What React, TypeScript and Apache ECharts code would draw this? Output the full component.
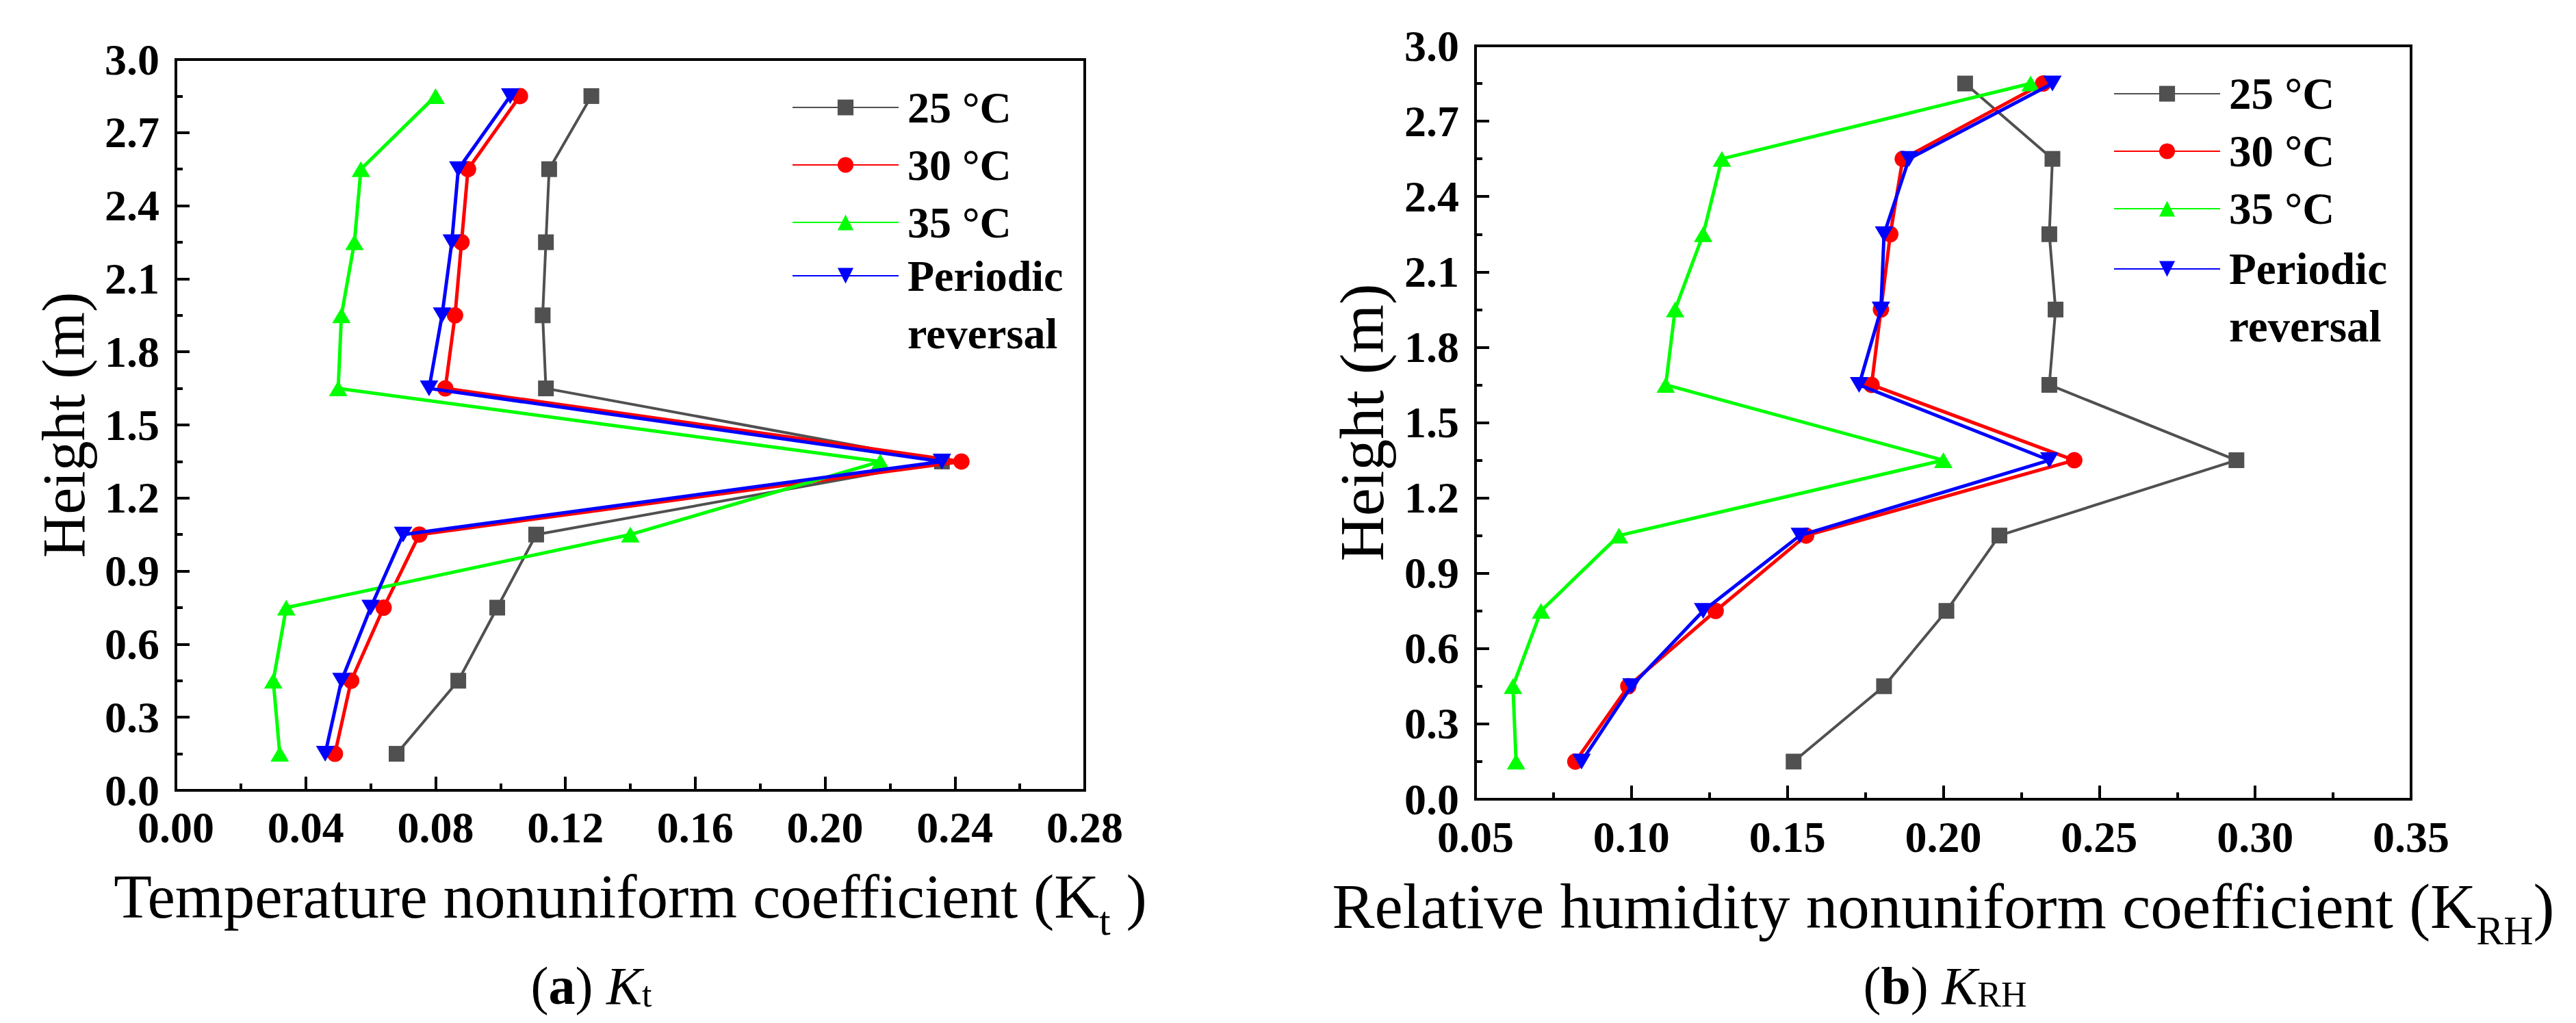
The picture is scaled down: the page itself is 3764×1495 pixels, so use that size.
import React, { useEffect, useRef } from 'react';
import * as echarts from 'echarts';

// ---------- data ----------
const heights = [0.15, 0.45, 0.75, 1.05, 1.35, 1.65, 1.95, 2.25, 2.55, 2.85];

const seriesNames = ['25 °C', '30 °C', '35 °C', 'Periodic reversal'];

const kt25 = [0.068, 0.087, 0.099, 0.111, 0.236, 0.114, 0.113, 0.114, 0.115, 0.128];
const kt30 = [0.049, 0.054, 0.064, 0.075, 0.242, 0.083, 0.086, 0.088, 0.090, 0.106];
const kt35 = [0.032, 0.030, 0.034, 0.140, 0.217, 0.050, 0.051, 0.055, 0.057, 0.080];
const ktPR = [0.046, 0.051, 0.060, 0.070, 0.236, 0.078, 0.082, 0.085, 0.087, 0.103];

const krh25 = [0.152, 0.181, 0.201, 0.218, 0.294, 0.234, 0.236, 0.234, 0.235, 0.207];
const krh30 = [0.082, 0.099, 0.127, 0.156, 0.242, 0.177, 0.180, 0.183, 0.187, 0.232];
const krh35 = [0.063, 0.062, 0.071, 0.096, 0.200, 0.111, 0.114, 0.123, 0.129, 0.228];
const krhPR = [0.084, 0.100, 0.123, 0.154, 0.234, 0.173, 0.180, 0.181, 0.189, 0.235];

const ktAxis = { min: 0, max: 0.28, interval: 0.04, digits: 2 };
const krhAxis = { min: 0.05, max: 0.35, interval: 0.05, digits: 2 };
const heightAxis = { min: 0, max: 3, interval: 0.3, digits: 1 };

// ---------- styles ----------
const FONT = 'Liberation Serif';
const colors = ['#505050', '#ff0000', '#00ff00', '#0000ff'];
const symbols = ['rect', 'circle', 'triangle', 'path://M0,0L20,0L10,17Z'];
const symbolSizes: any[] = [23, 24, [27, 23], [27, 23]];
const lineWidths = [4, 5, 5, 5];

function makeSeries(name: string, xs: number[], idx: number, k: number) {
  return {
    type: 'line',
    name,
    xAxisIndex: idx,
    yAxisIndex: idx,
    data: heights.map((h, i) => [xs[i], h]),
    symbol: symbols[k],
    symbolSize: symbolSizes[k],
    showAllSymbol: true,
    lineStyle: { color: colors[k], width: lineWidths[k] },
    itemStyle: { color: colors[k] },
    z: 2 + k,
    silent: true,
  };
}

function boldLabel(size: number, margin: number, digits: number) {
  return {
    color: '#000',
    fontFamily: FONT,
    fontWeight: 'bold',
    fontSize: size,
    margin,
    showMinLabel: true,
    showMaxLabel: true,
    formatter: (v: number) => v.toFixed(digits),
  };
}

function xAxisCfg(grid: number, ax: any, name: string, labelSize: number, nameSize: number, nameGap: number, margin: number) {
  return {
    type: 'value',
    gridIndex: grid,
    min: ax.min,
    max: ax.max,
    interval: ax.interval,
    name,
    nameLocation: 'middle',
    nameGap,
    nameTextStyle: {
      color: '#000',
      fontFamily: FONT,
      fontSize: nameSize,
      rich: {
        n: { fontFamily: FONT, fontSize: nameSize, lineHeight: 130, color: '#000' },
        s: { fontFamily: FONT, fontSize: 60, lineHeight: 60, padding: [70, 0, 0, 0], color: '#000' },
      },
    },
    axisLine: { show: true, onZero: false, lineStyle: { color: '#000', width: 4 } },
    axisTick: { show: true, inside: true, length: 20, lineStyle: { color: '#000', width: 4 } },
    minorTick: { show: true, splitNumber: 2, length: 10, lineStyle: { color: '#000', width: 4 } },
    splitLine: { show: false },
    minorSplitLine: { show: false },
    axisLabel: boldLabel(labelSize, margin, ax.digits),
  };
}

function yAxisCfg(grid: number, labelSize: number, nameSize: number, nameGap: number) {
  return {
    type: 'value',
    gridIndex: grid,
    min: heightAxis.min,
    max: heightAxis.max,
    interval: heightAxis.interval,
    name: 'Height (m)',
    nameLocation: 'middle',
    nameGap,
    nameTextStyle: { color: '#000', fontFamily: FONT, fontSize: nameSize },
    axisLine: { show: true, onZero: false, lineStyle: { color: '#000', width: 4 } },
    axisTick: { show: true, inside: true, length: 20, lineStyle: { color: '#000', width: 4 } },
    minorTick: { show: true, splitNumber: 2, length: 10, lineStyle: { color: '#000', width: 4 } },
    splitLine: { show: false },
    minorSplitLine: { show: false },
    axisLabel: boldLabel(labelSize, 24, heightAxis.digits),
  };
}

function legendCfg(left: number, top: number, names: string[], size: number) {
  return {
    show: true,
    orient: 'vertical',
    left,
    top,
    padding: 0,
    itemGap: 0,
    itemWidth: 155,
    itemHeight: 29,
    selectedMode: false,
    data: names,
    formatter: (n: string) => (n === 'Periodic reversal' ? '\nPeriodic\nreversal' : n),
    textStyle: {
      color: '#000',
      fontFamily: FONT,
      fontWeight: 'bold',
      fontSize: size,
      lineHeight: 84,
      padding: [0, 0, 0, 8],
    },
  };
}

function caption(x: number, y: number, letter: string, sub: string) {
  const base = { fontFamily: FONT, fontSize: 78, lineHeight: 78, verticalAlign: 'bottom', fill: '#000' };
  return {
    type: 'text',
    x,
    y,
    style: {
      text: `{r|(}{b|${letter}}{r|) }{i|K}{s|${sub}}`,
      align: 'center',
      verticalAlign: 'middle',
      rich: {
        r: { ...base },
        b: { ...base, fontWeight: 'bold' },
        i: { ...base, fontStyle: 'italic' },
        s: { ...base, fontSize: 52, lineHeight: 52 },
      },
    },
  };
}

export default function App() {
  const ref = useRef<HTMLDivElement>(null);
  useEffect(() => {
    document.body.style.margin = '0';
    const chart = echarts.init(ref.current as HTMLDivElement, undefined, { renderer: 'svg' });
    const leftSets = [kt25, kt30, kt35, ktPR];
    const rightSets = [krh25, krh30, krh35, krhPR];
    const option: any = {
      animation: false,
      backgroundColor: '#ffffff',
      textStyle: { fontFamily: FONT },
      grid: [
        { left: 257, top: 87, width: 1328, height: 1068, show: true, borderColor: '#000', borderWidth: 4, outerBoundsMode: 'none', containLabel: false },
        { left: 2156, top: 67, width: 1367, height: 1101, show: true, borderColor: '#000', borderWidth: 4, outerBoundsMode: 'none', containLabel: false },
      ],
      xAxis: [
        xAxisCfg(0, ktAxis, '{n|Temperature nonuniform coefficient (K}{s|t}{n| )}', 64, 91, 78, 22),
        xAxisCfg(1, krhAxis, '{n|Relative humidity nonuniform coefficient (K}{s|RH}{n|)}', 64, 93, 82, 23),
      ],
      yAxis: [yAxisCfg(0, 64, 88, 120), yAxisCfg(1, 64, 92, 120)],
      legend: [
        legendCfg(1157, 115, seriesNames.slice(0, 3), 64),
        legendCfg(1157, 277, seriesNames.slice(3), 64),
        legendCfg(3088, 95, seriesNames.slice(0, 3), 65),
        legendCfg(3088, 267, seriesNames.slice(3), 65),
      ],
      series: [
        ...leftSets.map((xs, k) => makeSeries(seriesNames[k], xs, 0, k)),
        ...rightSets.map((xs, k) => makeSeries(seriesNames[k], xs, 1, k)),
      ],
      graphic: [caption(864, 1440, 'a', 't'), caption(2842, 1440, 'b', 'RH')],
    };
    chart.setOption(option);
    return () => chart.dispose();
  }, []);
  return <div ref={ref} style={{ width: 3764, height: 1495 }} />;
}
